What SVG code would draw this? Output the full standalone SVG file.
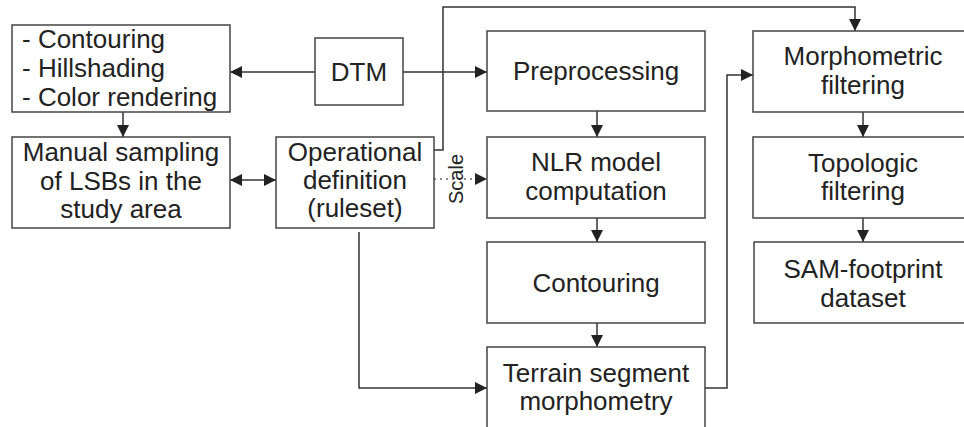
<svg xmlns="http://www.w3.org/2000/svg" width="964" height="427" viewBox="0 0 964 427">
<defs>
<marker id="ah" viewBox="0 0 12 12" refX="12" refY="6" markerWidth="12" markerHeight="12" markerUnits="userSpaceOnUse" orient="auto-start-reverse">
<path d="M0,0 L12,6 L0,12 z" fill="#222"/>
</marker>
<style>
.box{fill:#fff;stroke:#444;stroke-width:1.5}
.t{font-family:"Liberation Sans",Arial,sans-serif;font-size:26px;fill:#222;text-anchor:middle}
.tl{font-family:"Liberation Sans",Arial,sans-serif;font-size:26px;fill:#222}
.c{fill:none;stroke:#333;stroke-width:1.5}
.d{fill:none;stroke:#666;stroke-width:1.3;stroke-dasharray:2,4}
</style>
</defs>
<rect width="964" height="427" fill="#fff"/>
<g id="connectors">
<line class="c" x1="315" y1="72" x2="230" y2="72" marker-end="url(#ah)"/>
<line class="c" x1="403" y1="72" x2="487" y2="72" marker-end="url(#ah)"/>
<line class="c" x1="123" y1="112" x2="123" y2="137" marker-end="url(#ah)"/>
<line class="c" x1="230" y1="180" x2="276" y2="180" marker-start="url(#ah)" marker-end="url(#ah)"/>
<polyline class="c" points="434,150 443,150 443,7 855,7 855,31" marker-end="url(#ah)"/>
<line class="d" x1="434" y1="179" x2="476" y2="179"/>
<path d="M475,173 L487,179 L475,185 z" fill="#222"/>
<polyline class="c" points="359,232 359,388 487,388" marker-end="url(#ah)"/>
<line class="c" x1="597" y1="111" x2="597" y2="137" marker-end="url(#ah)"/>
<line class="c" x1="597" y1="218" x2="597" y2="242" marker-end="url(#ah)"/>
<line class="c" x1="597" y1="323" x2="597" y2="347" marker-end="url(#ah)"/>
<polyline class="c" points="705,388 727,388 727,75 753,75" marker-end="url(#ah)"/>
<line class="c" x1="863" y1="112" x2="863" y2="137" marker-end="url(#ah)"/>
<line class="c" x1="863" y1="218" x2="863" y2="242" marker-end="url(#ah)"/>
<text x="463" y="179" transform="rotate(-90 463 179)" font-family="Liberation Sans,Arial,sans-serif" font-size="20" fill="#222" text-anchor="middle">Scale</text>
</g>
<g id="vis">
<rect class="box" x="12" y="25" width="218" height="87"/>
<text class="tl" x="22" y="48">- Contouring</text>
<text class="tl" x="22" y="77">- Hillshading</text>
<text class="tl" x="22" y="106">- Color rendering</text>
</g>
<g id="dtm">
<rect class="box" x="315" y="38" width="88" height="67"/>
<text class="t" x="359" y="81">DTM</text>
</g>
<g id="manual">
<rect class="box" x="12" y="137" width="218" height="91"/>
<text class="t" x="121" y="161">Manual sampling</text>
<text class="t" x="121" y="190">of LSBs in the</text>
<text class="t" x="121" y="218">study area</text>
</g>
<g id="operational">
<rect class="box" x="276" y="137" width="158" height="91"/>
<text class="t" x="355" y="161">Operational</text>
<text class="t" x="355" y="189">definition</text>
<text class="t" x="355" y="217">(ruleset)</text>
</g>
<g id="preprocessing">
<rect class="box" x="487" y="31" width="218" height="80"/>
<text class="t" x="596" y="80">Preprocessing</text>
</g>
<g id="nlr">
<rect class="box" x="487" y="137" width="218" height="81"/>
<text class="t" x="596" y="171">NLR model</text>
<text class="t" x="596" y="200">computation</text>
</g>
<g id="contouring">
<rect class="box" x="487" y="242" width="218" height="81"/>
<text class="t" x="596" y="292">Contouring</text>
</g>
<g id="terrain">
<rect class="box" x="487" y="347" width="218" height="90"/>
<text class="t" x="596" y="382">Terrain segment</text>
<text class="t" x="596" y="410">morphometry</text>
</g>
<g id="morphometric">
<rect class="box" x="753" y="31" width="220" height="81"/>
<text class="t" x="863" y="65">Morphometric</text>
<text class="t" x="863" y="94">filtering</text>
</g>
<g id="topologic">
<rect class="box" x="753" y="137" width="220" height="81"/>
<text class="t" x="863" y="172">Topologic</text>
<text class="t" x="863" y="200">filtering</text>
</g>
<g id="sam">
<rect class="box" x="754" y="242" width="220" height="81"/>
<text class="t" x="863" y="278">SAM-footprint</text>
<text class="t" x="863" y="307">dataset</text>
</g>
</svg>
